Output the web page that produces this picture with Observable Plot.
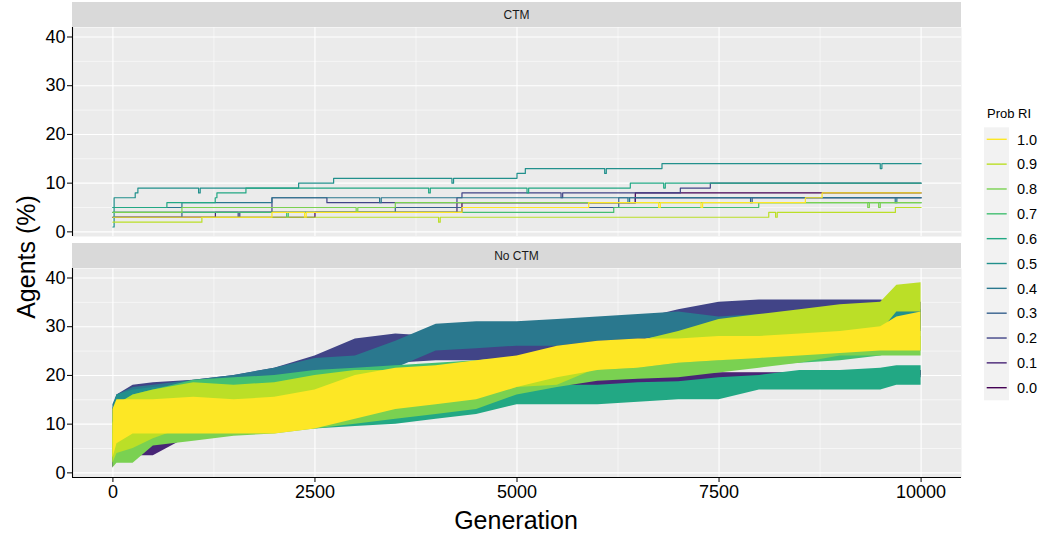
<!DOCTYPE html>
<html><head><meta charset="utf-8">
<script src="https://cdn.jsdelivr.net/npm/d3@7"></script>
<script src="https://cdn.jsdelivr.net/npm/@observablehq/plot@0.6"></script>
<style>
body{margin:0;background:#fff;font-family:"Liberation Sans",Arial,sans-serif;}
#root{position:relative;width:1048px;height:535px;overflow:hidden;background:#fff}
.strip{position:absolute;left:72px;width:889px;height:25px;background:#d9d9d9;font-size:12px;color:#1a1a1a;display:flex;align-items:center;justify-content:center}
.abs{position:absolute}
#ytitle{left:26px;top:257px;transform:translate(-50%,-50%) rotate(-90deg);font-size:25px;white-space:nowrap;color:#000}
#xtitle{left:516px;top:520px;transform:translate(-50%,-50%);font-size:25px;white-space:nowrap;color:#000}
</style></head><body><div id="root"></div>
<script>
// ---- categories / colours ----
const probs = ["0.0","0.1","0.2","0.3","0.4","0.5","0.6","0.7","0.8","0.9","1.0"];
const colors = ["#440154","#482576","#414487","#35608D","#2A788E","#21908C","#22A884","#43BF71","#7AD151","#BBDF27","#FDE725"];
const panels = ["CTM","No CTM"];
const yTicks = [0,10,20,30,40];
const yMinor = [5,15,25,35];
const xTicks = [0,2500,5000,7500,10000];
const xMinor = [1250,3750,6250,8750];

// ---- CTM panel: step series [generation, agents %] ----
const ctm00 = [[0,3],[2500,4],[4319,6],[6464,8],[10000,8]];
const ctm01 = [[0,3],[1268,4],[4257,6],[6464,7],[10000,7]];
const ctm02 = [[0,4],[1550,3],[1570,4],[1968,7],[2648,6],[4257,7],[4319,8],[5545,7],[5565,8],[7021,9],[7392,10],[10000,10]];
const ctm03 = [[0,3],[854,4],[3494,5],[6259,7],[7890,6],[7910,7],[10000,7]];
const ctm04 = [[0,5],[854,6],[1968,7],[3300,6],[3320,7],[6373,6],[6393,7],[9680,6],[9700,7],[10000,7]];
const ctm05 = [[0,1],[15,7],[276,8],[309,9],[1060,8],[1080,9],[2298,10],[2731,11],[4195,10],[4215,11],[5000,12],[5103,13],[6085,12],[6105,13],[6794,14],[9495,13],[9515,14],[10000,14]];
const ctm06 = [[0,5],[668,6],[1266,7],[1287,8],[1646,9],[3907,8],[3927,9],[5124,8],[5144,9],[6402,10],[6815,9],[6835,10],[10000,10]];
const ctm07 = [[0,4],[2150,3],[2170,4],[6197,5],[7991,6],[10000,6]];
const ctm08 = [[0,4],[854,5],[3010,4],[3030,5],[3494,6],[9340,5],[9360,6],[9475,5],[9495,6],[10000,6]];
const ctm09 = [[0,2],[1101,3],[4030,2],[4050,3],[8115,4],[8200,3],[8220,4],[9682,5],[10000,5]];
const ctm10 = [[0,3],[1968,4],[2372,3],[2392,4],[4319,5],[5887,6],[6753,5],[6773,6],[7277,5],[7297,6],[8568,7],[8775,8],[10000,8]];

// ---- No CTM panel: band (low / high of the fluctuating trace) per generation ----
const gens = [0,50,250,500,1000,1500,2000,2500,3000,3500,4000,4500,5000,5500,6000,6500,7000,7500,8000,8500,9000,9500,9700,10000];
const lo00 = [1,4,6,7,8,9,10,11,12,13,14,15,16,17,17.3,17.8,18.3,19,19,19,19.5,20,20,20];
const hi00 = [8,12,13,13.5,14,14.5,15,16,17,17.5,18,18.5,19.5,19.5,19.5,20,20.5,20.5,20.5,20.5,21,21,21,21];
const lo01 = [1,3,3.5,3.5,8,9,10,11,12,13,14,15,16,16.5,17,17.5,18,18.5,18.5,18.5,19,19,19.5,19.5];
const hi01 = [7,8,7,8,13,14,15,16,17,18,19,19.5,19.5,19.5,19.5,19.5,20,20.5,20.5,20.5,21,21,21,21];
const lo02 = [3,8,11,12,13,14,15,17.5,21,22.5,23,23,23.5,24,25,27,29,30,31,31,31,31,31,31];
const hi02 = [13,16,18,18.5,19,20,21.5,24,27.5,28.5,28,28,28,28.5,29.5,31.5,33.5,35,35.5,35.5,35.5,35.5,35,35];
const lo03 = [4.5,9.5,11.5,12.5,13.5,14.5,15.5,17.5,20,22,25.5,26,26.5,26.5,27.5,28,28.5,28.5,28.5,29,29,29.5,29.5,29.5];
const hi03 = [13,15,16.5,17,18,19,20.5,22.5,23,26,29.5,30,30,30.5,31,31.5,32,31,31.5,32,32,32.5,32.5,32.5];
const lo04 = [4,9,11,12,13,14,15,17,19.5,21.5,25,25.5,26,26,27,27.5,28,28,28,28.5,28.5,29,29,29];
const hi04 = [14,16,17.5,18,19,20,21.5,23.5,24,27,30.5,31,31,31.5,32,32.5,33,32,32.5,33,33,33.5,33.5,33.5];
const lo05 = [3,8,10,11,12,13,13.5,14.5,16,17,18,18.5,19,20,21.5,22,23,24,25,26,27,28,29,29];
const hi05 = [13,16,17,17.5,18,18.5,19,20,21,22,22,22.5,23,24,25.5,26,27.5,28.5,29.5,30,31,32,33,33];
const lo06 = [2,5,7,8,8.5,9,9,9,9.5,10,11,12,14,14,14,14.5,15,15,17,17,17,17,18,18];
const hi06 = [12,14,15,15.5,16,16.5,17,17,16,15,15,16.5,17.5,18,18,18.5,18.7,19.5,20,21,21,21.5,22,22];
const lo07 = [2,6,9,10,11,12,13,14,15,16,16.5,17,18,18.5,19,20,20.5,21,22,22.5,23,24,25,25];
const hi07 = [10,14,16,17,19,19.5,20,21,21.5,22,22.5,23,23.5,24,24.5,25,25.5,26,27,27,27.5,28,29,29];
const lo08 = [1,2,2,5.5,6.5,7.5,8,9,10,11,12,13,16,17.5,18.8,19.2,19.5,20.5,21.5,22.5,24,24,24,24];
const hi08 = [8,10,10,11,13,14,15,16,17,18,19,19,20,20.5,21,21.5,22.5,23,24,24.5,25.5,25.5,28,28];
const lo09 = [2,4,5,7,10,10,10.5,12,14,15,15,15.5,17.5,18,21.5,22,23,26,27,28,28.5,29,33,33];
const hi09 = [10,14,16,17,18.5,18,18.5,20,21,21,21.5,22,22,23,25,27,29,31.5,32.5,33.5,34.5,35,38.5,39];
const lo10 = [3,6,8,8,8,8,8,9,11,13,14,15,17.5,19.5,21,21.5,22.5,23,23.5,24,24.5,25,25,25];
const hi10 = [13,15,15,15,15.5,15,15.5,17,20,21.5,22,23,24,26,27,27.5,27.5,28,28,28.5,29,30,32,33];

// ---- build tables ----
const ctmSeries = [ctm00,ctm01,ctm02,ctm03,ctm04,ctm05,ctm06,ctm07,ctm08,ctm09,ctm10];
const loAll = [lo00,lo01,lo02,lo03,lo04,lo05,lo06,lo07,lo08,lo09,lo10];
const hiAll = [hi00,hi01,hi02,hi03,hi04,hi05,hi06,hi07,hi08,hi09,hi10];
const ctmRows = ctmSeries.flatMap((s,i)=>s.map(([gen,v])=>({prob:probs[i],gen,v})));
const bandRows = probs.flatMap((p,i)=>gens.map((g,j)=>({prob:p,gen:g,lo:loAll[i][j],hi:hiAll[i][j]})));

const xDomain = [-500,10500];
const yDomain = [-0.95,41.95];
const PANEL_H = 209;

function panel(dataMarks, bottom){
  return Plot.plot({
    width:1048, height: PANEL_H + (bottom?58:0),
    marginLeft:72, marginRight:87, marginTop:0, marginBottom: bottom?58:0,
    style:{fontFamily:"Liberation Sans, Arial, sans-serif", fontSize:"18px", color:"#000", background:"transparent", overflow:"visible"},
    x:{domain:xDomain, axis: bottom ? "bottom" : null, ticks:xTicks, tickFormat:d=>String(d), tickSize:5, tickPadding:3, label:null},
    y:{domain:yDomain, ticks:yTicks, tickSize:5, tickPadding:2, label:null},
    color:{domain:probs, range:colors},
    marks:[
      Plot.frame({fill:"#ebebeb", stroke:null}),
      Plot.ruleY(yMinor,{stroke:"#fff", strokeWidth:0.55}),
      Plot.ruleX(xMinor,{stroke:"#fff", strokeWidth:0.55}),
      Plot.ruleY(yTicks,{stroke:"#fff", strokeWidth:1.1}),
      Plot.ruleX(xTicks,{stroke:"#fff", strokeWidth:1.1}),
      ...dataMarks,
      Plot.ruleX([xDomain[0]],{stroke:"#000", strokeWidth:1.1}),
      ...(bottom ? [Plot.ruleY([yDomain[0]],{stroke:"#000", strokeWidth:1.1})] : [])
    ]
  });
}

const rootEl = document.getElementById("root");

function place(el, y){ el.style.position="absolute"; el.style.left="0px"; el.style.top=y+"px"; rootEl.appendChild(el); }

function strip(text, y){ const d=document.createElement("div"); d.className="strip"; d.style.top=y+"px"; d.textContent=text; rootEl.appendChild(d); }
strip(panels[0], 2);
strip(panels[1], 243);

const topPlot = panel([
  Plot.line(ctmRows,{x:"gen", y:"v", z:"prob", stroke:"prob", curve:"step-after", strokeWidth:1.2})
], false);
place(topPlot, 27);

const botPlot = panel([
  Plot.areaY(bandRows,{x:"gen", y1:"lo", y2:"hi", z:"prob", fill:"prob", curve:"linear"})
], true);
place(botPlot, 268);

const yt=document.createElement("div"); yt.id="ytitle"; yt.className="abs"; yt.textContent="Agents (%)"; rootEl.appendChild(yt);
const xt=document.createElement("div"); xt.id="xtitle"; xt.className="abs"; xt.textContent="Generation"; rootEl.appendChild(xt);

const lg = d3.create("svg").attr("width",70).attr("height",320)
  .style("position","absolute").style("left","978px").style("top","95px")
  .style("font-family","Liberation Sans, Arial, sans-serif");
lg.append("text").attr("x",9).attr("y",22.5).attr("font-size",13).attr("fill","#000").text("Prob RI");
lg.append("rect").attr("x",6).attr("y",32.3).attr("width",25).attr("height",273).attr("fill","#f2f2f2");
const order = probs.slice().reverse();
const cols = colors.slice().reverse();
order.forEach((p,k)=>{
  const cy = 44.3 + k*24.84;
  lg.append("line").attr("x1",8.7).attr("x2",28.7).attr("y1",cy).attr("y2",cy).attr("stroke",cols[k]).attr("stroke-width",1.4);
  lg.append("text").attr("x",39).attr("y",cy).attr("dy","0.36em").attr("font-size",14.5).attr("fill","#000").text(p);
});
rootEl.appendChild(lg.node());
</script></body></html>
